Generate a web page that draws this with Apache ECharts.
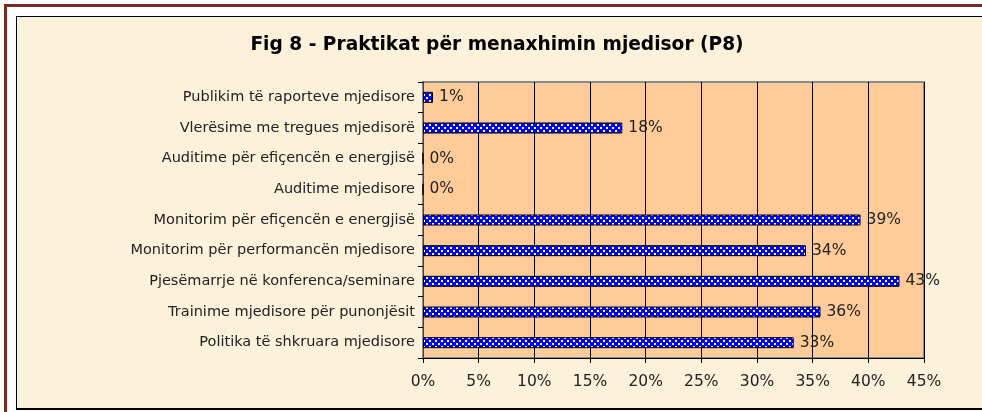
<!DOCTYPE html>
<html>
<head>
<meta charset="utf-8">
<script src="https://cdn.jsdelivr.net/npm/echarts@6/dist/echarts.min.js"></script>
<style>
html,body{margin:0;padding:0;background:#ffffff;}
#wrap{position:relative;width:982px;height:412px;overflow:hidden;background:#ffffff;}
#maroon{position:absolute;left:4px;top:4px;width:1200px;height:600px;border-left:3px solid #7a2a22;border-top:3px solid #7a2a22;box-sizing:border-box;}
#box{position:absolute;left:16px;top:16px;width:1200px;height:394px;border-left:1px solid #000;border-top:1px solid #000;border-bottom:2px solid #000;box-sizing:border-box;background:#fcf1da;}
#chart{position:absolute;left:0;top:0;width:982px;height:412px;}
</style>
</head>
<body>
<div id="wrap">
<div id="maroon"></div>
<div id="box"></div>
<div id="chart"></div>
</div>
<script>
var title = 'Fig 8 - Praktikat për menaxhimin mjedisor (P8)';
var categories = [
  'Politika të shkruara mjedisore',
  'Trainime mjedisore për punonjësit',
  'Pjesëmarrje në konferenca/seminare',
  'Monitorim për performancën mjedisore',
  'Monitorim për efiçencën e energjisë',
  'Auditime mjedisore',
  'Auditime për efiçencën e energjisë',
  'Vlerësime me tregues mjedisorë',
  'Publikim të raporteve mjedisore'
];
var values = [33.3, 35.7, 42.8, 34.4, 39.3, 0, 0, 17.9, 0.9];
var xTicks = [0, 5, 10, 15, 20, 25, 30, 35, 40, 45];

var tile = document.createElement('canvas');
tile.width = 6; tile.height = 6;
var c = tile.getContext('2d');
c.fillStyle = '#0000ff'; c.fillRect(0,0,6,6);
c.fillStyle = '#ffffff';
c.fillRect(0,1,2,2); c.fillRect(3,4,2,2);

var chart = echarts.init(document.getElementById('chart'));
chart.setOption({
  animation: false,
  title: {
    text: title, left: 492, top: 31, textAlign: 'center',
    textStyle: {fontFamily: 'DejaVu Sans', fontSize: 18.6, fontWeight: 'bold', color: '#000'}
  },
  grid: {left: 423, top: 82, width: 501, height: 276, containLabel: false,
         show: true, backgroundColor: '#ffcc99', borderColor: '#8a8a8a', borderWidth: 2},
  xAxis: {
    type: 'value', min: xTicks[0], max: xTicks[xTicks.length-1], interval: 5,
    axisLine: {show: true, lineStyle: {color: '#000', width: 1}},
    axisTick: {show: true, length: 5, lineStyle: {color: '#000'}},
    axisLabel: {formatter: function(v){return v + '%';}, margin: 16,
                fontFamily: 'DejaVu Sans', fontSize: 15.5, color: '#222'},
    splitLine: {show: true, lineStyle: {color: '#000', width: 1}}
  },
  yAxis: {
    type: 'category', data: categories,
    axisLine: {show: true, lineStyle: {color: '#444', width: 1}},
    axisTick: {show: true, length: 5, lineStyle: {color: '#000'}},
    axisLabel: {margin: 8, fontFamily: 'DejaVu Sans', fontSize: 14.5, color: '#222'}
  },
  series: [{
    type: 'bar', data: values, barWidth: 11,
    itemStyle: {color: {image: tile, repeat: 'repeat'}, borderColor: '#000', borderWidth: 1},
    label: {show: true, position: 'right', distance: 6,
            formatter: function(p){return Math.round(p.value) + '%';},
            fontFamily: 'DejaVu Sans', fontSize: 15.5, color: '#222'}
  }]
});
</script>
</body>
</html>
